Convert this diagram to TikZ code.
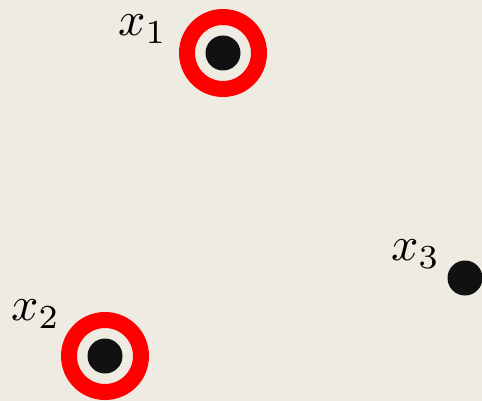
\documentclass[tikz,border=0pt]{standalone}
\usepackage{amsmath,amssymb}
\usepackage{tikz}
\usetikzlibrary{positioning, backgrounds, calc}

\definecolor{paper}{HTML}{EEEBE3}
\definecolor{ringred}{HTML}{FF0000}
\definecolor{dotblack}{HTML}{111111}

\begin{document}
\begin{tikzpicture}[
    x=1pt, y=-1pt,
    dot/.style={circle, fill=dotblack, inner sep=0pt, minimum size=35pt},
    ring/.style={circle, draw=ringred, line width=16pt, inner sep=0pt, minimum size=72pt},
    lbl/.style={scale=4.8, inner sep=0pt}
  ]
    % Background and frame of the picture
    \fill[paper] (0,0) rectangle (482,401);
    \useasboundingbox (0,0) rectangle (482,401);

    % Points
    \node[dot] (p1) at (223,53) {};
    \node[dot] (p2) at (105,356) {};
    \node[dot] (p3) at (465,278) {};

    % Red rings round the chosen points
    \node[ring] (r1) at (p1) {};
    \node[ring] (r2) at (p2) {};

    % Labels
    \node[lbl, anchor=south east] (l1) at (168,44) {$x_1$};
    \node[lbl, anchor=south east] (l2) at (61,329) {$x_2$};
    \node[lbl, anchor=south east] (l3) at (441,269) {$x_3$};
  \end{tikzpicture}
\end{document}
